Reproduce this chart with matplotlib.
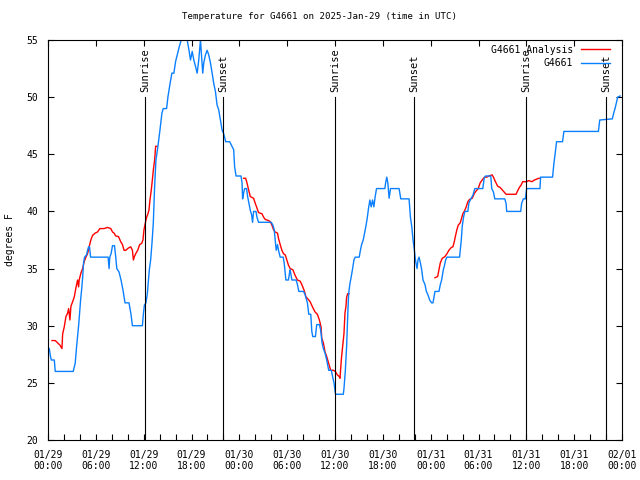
"""
Temperature for G4661 on 2025-Jan-29: station readings vs analysis, with sunrise/sunset marks.
"""

import pandas as pd
import matplotlib
matplotlib.use('Agg')
from matplotlib import pyplot as plt
import matplotlib.dates as mdates

START = pd.Timestamp('2025-01-29 00:00')

# station observations: hours since 01/29 00:00 UTC, degrees F
obs_hours = [
    0.16, 0.29, 0.41, 0.79, 0.91, 3.16, 3.41, 3.59, 3.84, 4.09, 4.21, 4.34, 4.46, 4.59,
    4.84, 4.96, 5.09, 5.21, 5.34, 7.54, 7.66, 7.75, 7.91, 8.09, 8.34, 8.5, 8.63, 8.91,
    9.16, 9.41, 9.66, 10.16, 10.41, 10.59, 11.84, 11.96, 12.09, 12.29, 12.46, 12.71,
    12.875, 13.04, 13.21, 13.375, 13.54, 13.79, 14.04, 14.29, 14.46, 14.875, 15.04,
    15.29, 15.54, 15.79, 16.0, 16.21, 16.46, 16.71, 17.1, 17.46, 17.71, 17.875, 18.09,
    18.29, 18.5, 18.71, 18.91, 19.125, 19.41, 19.54, 19.75, 19.96, 20.16, 20.375, 20.59,
    20.79, 21.0, 21.21, 21.41, 21.625, 21.84, 22.04, 22.29, 22.79, 23.29, 23.41, 23.59,
    24.21, 24.34, 24.41, 24.54, 24.66, 24.91, 25.04, 25.21, 25.375, 25.54, 25.66, 25.79,
    26.09, 26.21, 26.41, 28.0, 28.21, 28.375, 28.5, 28.625, 28.79, 28.91, 29.125, 29.5,
    29.625, 29.75, 29.84, 30.16, 30.29, 30.375, 30.5, 30.59, 31.125, 31.29, 31.46,
    32.04, 32.21, 32.375, 32.54, 32.71, 32.96, 33.09, 33.21, 33.54, 33.71, 34.04, 34.21,
    34.375, 34.54, 34.75, 34.96, 35.21, 35.54, 35.71, 35.875, 36.04, 36.09, 37.04,
    37.125, 37.29, 37.46, 37.59, 37.71, 37.875, 38.04, 38.21, 38.375, 38.54, 39.04,
    39.16, 39.34, 39.54, 39.71, 39.875, 40.04, 40.21, 40.375, 40.54, 40.71, 40.875,
    41.04, 41.21, 42.25, 42.375, 42.5, 42.625, 42.79, 42.96, 44.04, 44.25, 45.29, 45.46,
    45.625, 45.79, 45.96, 46.09, 46.29, 46.41, 46.54, 46.71, 46.875, 47.04, 47.29, 47.46,
    47.66, 47.875, 48.125, 48.29, 48.54, 49.04, 49.21, 49.375, 49.59, 49.71, 49.875,
    50.04, 51.625, 51.84, 51.96, 52.125, 52.29, 52.66, 52.79, 52.96, 53.29, 53.54,
    54.54, 54.71, 54.875, 55.54, 55.66, 55.875, 56.04, 57.29, 57.46, 57.54, 59.29,
    59.41, 59.625, 59.875, 60.04, 61.71, 61.79, 63.29, 63.46, 63.625, 63.79, 64.54,
    64.71, 69.04, 69.21, 70.79, 70.96, 71.125, 71.29, 71.46, 71.75,
]
obs_temps = [
    28.0, 27.4, 27.0, 27.0, 26.0, 26.0, 26.7, 28.2, 30.0, 32.25, 33.1, 34.15, 35.5, 36.0,
    36.2, 36.6, 36.9, 36.9, 36.0, 36.0, 35.0, 36.0, 36.3, 37.0, 37.0, 36.0, 35.0, 34.7,
    34.0, 33.1, 32.0, 32.0, 31.0, 30.0, 30.0, 31.0, 31.8, 32.0, 32.8, 34.9,
    35.75, 37.2, 39.0, 42.2, 44.5, 45.7, 47.1, 48.6, 49.0, 49.0, 50.0,
    51.1, 52.1, 52.1, 53.1, 53.7, 54.4, 55.0, 56.0, 55.0, 54.0, 53.25, 54.0,
    53.25, 52.7, 52.1, 53.25, 55.0, 52.1, 53.0, 53.7, 54.1, 53.7, 53.0, 52.1,
    51.2, 50.5, 49.3, 48.9, 48.0, 47.1, 46.8, 46.1, 46.1, 45.4, 43.9, 43.1,
    43.1, 42.5, 41.1, 41.6, 42.0, 42.0, 41.3, 40.7, 40.1, 39.7, 39.05, 40.0,
    40.0, 39.5, 39.05, 39.05, 38.8, 38.4, 37.5, 36.6, 37.1, 36.6, 36.0, 36.0,
    35.5, 34.6, 34.0, 34.0, 34.6, 34.9, 34.4, 34.0, 34.0, 33.6, 33.0,
    33.0, 32.8, 32.4, 32.0, 31.0, 31.0, 29.5, 29.05, 29.05, 30.1, 30.1, 29.6,
    28.5, 28.0, 27.6, 27.0, 26.1, 26.1, 25.5, 25.0, 24.1, 24.0, 24.0,
    24.5, 26.0, 28.2, 30.8, 32.8, 33.7, 34.3, 35.0, 35.75, 36.0, 36.0,
    36.5, 37.1, 37.5, 38.1, 38.7, 39.4, 40.3, 41.0, 40.4, 41.0, 40.4,
    41.3, 42.0, 42.0, 42.6, 43.0, 42.5, 41.15, 42.0, 42.0, 41.1, 41.1, 39.5,
    38.7, 37.5, 36.6, 35.75, 35.0, 35.75, 36.0, 35.5, 34.9, 34.0, 33.6, 33.0,
    32.7, 32.25, 32.0, 32.0, 33.0, 33.0, 33.6, 34.0, 34.9, 35.2, 35.75,
    36.0, 36.0, 37.5, 38.7, 39.5, 40.0, 40.0, 40.7, 41.0, 41.4, 42.0,
    42.0, 42.9, 43.1, 43.1, 42.0, 41.7, 41.1, 41.1, 40.7, 40.0, 40.0,
    40.7, 41.1, 41.1, 42.0, 42.0, 43.0, 43.0, 44.2, 45.1, 46.1, 46.1,
    47.0, 47.0, 48.0, 48.1, 48.6, 49.0, 49.5, 50.0, 50.1,
]

# analysis series (three separate runs)
ana1_hours = [
    0.5, 0.91, 1.21, 1.5, 1.75, 1.84, 2.04, 2.25, 2.46, 2.59, 2.75, 2.875, 3.09, 3.29,
    3.5, 3.71, 3.84, 3.91, 4.125, 4.34, 4.54, 4.75, 4.96, 5.16, 5.375, 5.59, 5.91, 6.21,
    6.5, 7.04, 7.46, 7.875, 8.09, 8.29, 8.5, 8.84, 9.125, 9.34, 9.54, 9.75, 10.09,
    10.375, 10.59, 10.71, 10.84, 11.0, 11.25, 11.5, 11.75, 11.91, 12.04, 12.21, 12.375,
    12.54, 12.66, 12.79, 12.96, 13.09, 13.21, 13.375, 13.5, 13.66,
]
ana1_temps = [
    28.7, 28.7, 28.5, 28.3, 28.0, 29.3, 29.9, 30.8, 31.1, 31.5, 30.5, 31.7, 32.1, 32.5,
    33.3, 34.0, 33.4, 34.0, 34.6, 35.0, 35.6, 36.0, 36.3, 36.9, 37.5, 37.9, 38.1, 38.2,
    38.5, 38.5, 38.6, 38.5, 38.2, 38.1, 37.85, 37.8, 37.35, 37.1, 36.6, 36.6, 36.8,
    36.9, 36.6, 35.75, 36.05, 36.3, 36.6, 37.1, 37.2, 37.5, 38.4, 39.0, 39.5,
    39.8, 40.1, 41.0, 41.9, 42.75, 43.6, 44.5, 45.7, 45.7,
]
ana2_hours = [
    24.54, 24.79, 24.96, 25.16, 25.375, 25.79, 26.0, 26.21, 26.41, 26.84, 27.04, 27.25,
    27.66, 27.875, 28.09, 28.29, 28.5, 28.79, 28.91, 29.125, 29.34, 29.54, 29.75, 29.96,
    30.16, 30.375, 30.71, 31.0, 31.29, 31.625, 31.84, 32.125, 32.375, 32.66, 32.875,
    33.21, 33.5, 33.79, 34.04, 34.25, 34.34, 34.54, 34.75, 34.96, 35.21, 35.46, 35.79,
    36.04, 36.29, 36.54, 36.625, 36.79, 36.96, 37.125, 37.25, 37.375, 37.46, 37.59, 37.75,
]
ana2_temps = [
    42.9, 42.9, 42.5, 41.9, 41.3, 41.15, 40.7, 40.3, 39.9, 39.8, 39.5, 39.3,
    39.2, 39.1, 38.8, 38.4, 38.2, 38.1, 37.65, 37.1, 36.6, 36.3, 36.2, 35.75,
    35.3, 35.0, 34.9, 34.4, 34.0, 33.9, 33.6, 33.1, 32.5, 32.3, 32.1,
    31.6, 31.2, 31.0, 30.5, 29.9, 28.9, 28.5, 27.7, 27.3, 26.7, 26.1, 26.1,
    26.0, 25.7, 25.55, 25.4, 27.0, 28.2, 29.3, 31.1, 31.7, 32.5, 32.8, 32.8,
]
ana3_hours = [
    48.54, 48.875, 49.04, 49.21, 49.46, 49.79, 50.04, 50.29, 50.59, 50.79, 50.96, 51.125,
    51.29, 51.46, 51.71, 51.875, 52.04, 52.25, 52.46, 52.66, 52.875, 53.21, 53.5, 53.71,
    53.96, 54.21, 54.46, 54.75, 55.04, 55.29, 55.71, 55.875, 56.125, 56.41, 56.71, 56.96,
    57.21, 57.46, 58.71, 58.91, 59.125, 59.34, 59.54, 60.04, 60.29, 60.71, 61.0, 61.21,
    61.54, 61.71,
]
ana3_temps = [
    34.2, 34.3, 34.9, 35.5, 35.9, 36.05, 36.3, 36.6, 36.85, 36.9, 37.35, 37.9,
    38.4, 38.8, 39.0, 39.4, 39.8, 40.05, 40.4, 40.85, 41.05, 41.15, 41.6, 41.8,
    42.0, 42.5, 42.75, 43.0, 43.0, 43.1, 43.2, 43.0, 42.6, 42.2, 42.1, 41.9,
    41.7, 41.5, 41.5, 41.8, 42.1, 42.3, 42.6, 42.6, 42.7, 42.6, 42.75, 42.8,
    42.9, 42.9,
]

# sun events, hours since start
sun_hours = [12.15, 22.0, 36.05, 45.95, 60.0, 70.05]
sun_labels = ['Sunrise', 'Sunset', 'Sunrise', 'Sunset', 'Sunrise', 'Sunset']


def to_times(hours):
    return START + pd.to_timedelta(hours, unit='h')


plt.rcParams['font.family'] = 'DejaVu Sans Mono'
plt.rcParams['font.size'] = 7

fig = plt.figure(figsize=(6.4, 4.8), dpi=100)
ax = fig.add_axes([48 / 640, 40 / 480, 574 / 640, 400 / 480])

red = '#ff0000'
blue = '#0a80ff'

ax.plot(to_times(ana1_hours), ana1_temps, color=red, lw=1.0, label='G4661 Analysis')
ax.plot(to_times(ana2_hours), ana2_temps, color=red, lw=1.0)
ax.plot(to_times(ana3_hours), ana3_temps, color=red, lw=1.0)
ax.plot(to_times(obs_hours), obs_temps, color=blue, lw=1.0, label='G4661')

for h, lab in zip(sun_hours, sun_labels):
    t = to_times([h])[0]
    ax.plot([t, t], [20, 50], color='black', lw=0.8)
    ax.text(t, 50.45, lab, rotation=90, ha='center', va='bottom', fontsize=7.5)

ax.set_xlim(START, START + pd.Timedelta(hours=72))
ax.set_ylim(20, 55)
ax.set_yticks(range(20, 56, 5))

ax.xaxis.set_major_locator(mdates.HourLocator(byhour=[0, 6, 12, 18]))
ax.xaxis.set_minor_locator(mdates.HourLocator(byhour=range(0, 24, 2)))
ax.xaxis.set_major_formatter(mdates.DateFormatter('%m/%d\n%H:%M'))

ax.tick_params(which='both', direction='in', length=4, width=0.8, top=True, right=True)
ax.tick_params(which='minor', top=False)
ax.tick_params(axis='x', pad=7)
ax.tick_params(axis='y', pad=7)
for s in ax.spines.values():
    s.set_linewidth(0.8)

ax.set_ylabel('degrees F', labelpad=8)
fig.suptitle('Temperature for G4661 on 2025-Jan-29 (time in UTC)', y=0.975, fontsize=6.6)

ax.legend(loc='upper right', bbox_to_anchor=(0.988, 1.0), frameon=False, markerfirst=False,
          handlelength=3.0, borderaxespad=0.1, labelspacing=0.35, fontsize=7)

fig.savefig('out.png', dpi=100)
